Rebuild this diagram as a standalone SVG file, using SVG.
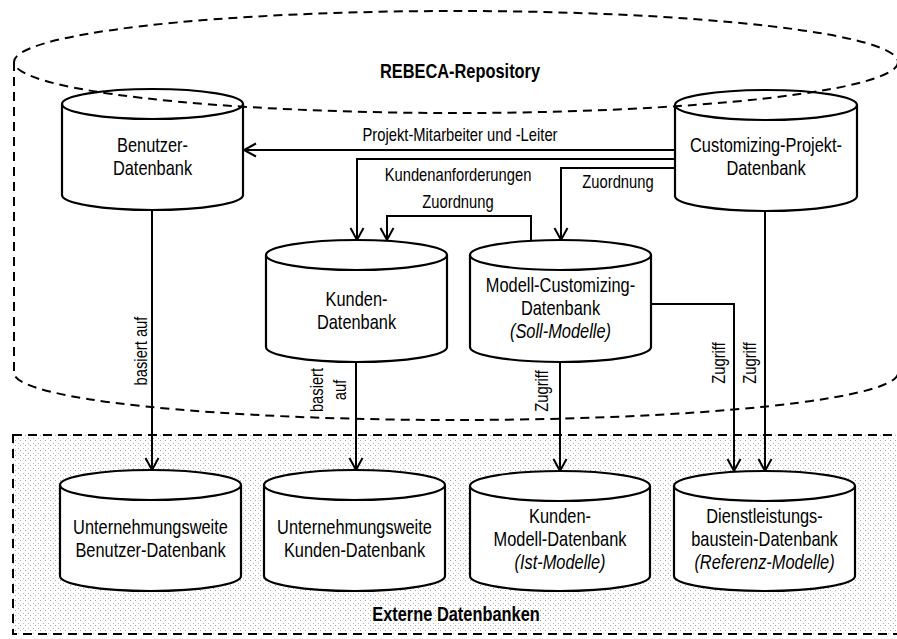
<svg xmlns="http://www.w3.org/2000/svg" width="897" height="639" viewBox="0 0 897 639">
  <style>
    .dash { fill: none; stroke: #000; stroke-width: 2; stroke-dasharray: 9 6; }
    .db { fill: #fff; stroke: #000; stroke-width: 2.2; }
    .db-open { fill: none; stroke: #000; stroke-width: 2.2; }
    .edge { fill: none; stroke: #000; stroke-width: 2; marker-end: url(#arrow); }
    text { font-family: "Liberation Sans", Arial, sans-serif; fill: #000; text-anchor: middle; }
    .node { font-size: 20px; }
    .lbl { font-size: 18px; }
    .title { font-size: 20px; font-weight: bold; }
    .it { font-style: italic; }
  </style>
  <defs>
    <marker id="arrow" markerUnits="userSpaceOnUse" markerWidth="16" markerHeight="16" refX="13" refY="8" orient="auto">
      <path d="M1,1.5 L13,8 L1,14.5" fill="none" stroke="#000" stroke-width="2"/>
    </marker>
    <pattern id="stipple" width="5" height="5" patternUnits="userSpaceOnUse">
      <rect x="0" y="0" width="1" height="1" fill="#a8a8a8"/>
      <rect x="3" y="3" width="1" height="1" fill="#b8b8b8"/>
    </pattern>
  </defs>

  <rect width="897" height="639" fill="#fff"/>

  <!-- External databases area -->
  <g id="externe-datenbanken">
    <rect x="13" y="435" width="900" height="199" fill="url(#stipple)"/>
    <rect x="13" y="435" width="900" height="199" class="dash"/>
    <text class="title" transform="translate(456,621) scale(0.82,1)">Externe Datenbanken</text>
  </g>

  <!-- REBECA repository outline (dashed cylinder) -->
  <g id="rebeca-repository">
    <ellipse cx="456" cy="62" rx="442" ry="51" class="dash"/>
    <path d="M14,62 V373 A442,47 0 0 0 898,373" class="dash"/>
    <text class="title" transform="translate(460,78) scale(0.82,1)">REBECA-Repository</text>
  </g>

  <!-- Connectors -->
  <g id="connectors">
    <path class="edge" d="M675,150 H244"/>
    <path class="edge" d="M675,159 H357 V240"/>
    <path class="edge" d="M675,168 H561 V240"/>
    <path class="edge" d="M531,241 V216 H387 V240"/>
    <path class="edge" d="M152,210 V470"/>
    <path class="edge" d="M356,362 V470"/>
    <path class="edge" d="M560,362 V471"/>
    <path class="edge" d="M651,304 H734 V471"/>
    <path class="edge" d="M765,212 V471"/>

    <text class="lbl" transform="translate(460,141) scale(0.82,1)">Projekt-Mitarbeiter und -Leiter</text>
    <text class="lbl" transform="translate(458,181) scale(0.82,1)">Kundenanforderungen</text>
    <text class="lbl" transform="translate(618,188) scale(0.82,1)">Zuordnung</text>
    <text class="lbl" transform="translate(458,208) scale(0.82,1)">Zuordnung</text>
    <text class="lbl" transform="translate(147,351) rotate(-90) scale(0.82,1)">basiert auf</text>
    <text class="lbl" transform="translate(323,390) rotate(-90) scale(0.82,1)">basiert</text>
    <text class="lbl" transform="translate(346,390) rotate(-90) scale(0.82,1)">auf</text>
    <text class="lbl" transform="translate(548,391) rotate(-90) scale(0.82,1)">Zugriff</text>
    <text class="lbl" transform="translate(725,363) rotate(-90) scale(0.82,1)">Zugriff</text>
    <text class="lbl" transform="translate(756,363) rotate(-90) scale(0.82,1)">Zugriff</text>
  </g>

  <!-- Repository databases -->
  <g id="benutzer-db">
    <path class="db-open" d="M62,104 V195 A90.5,15 0 0 0 243,195 V104"/>
    <ellipse class="db-open" cx="152.5" cy="104" rx="90.5" ry="15"/>
    <text class="node" transform="translate(152.5,152) scale(0.82,1)">Benutzer-</text>
    <text class="node" transform="translate(152.5,175) scale(0.82,1)">Datenbank</text>
  </g>

  <g id="customizing-projekt-db">
    <path class="db-open" d="M675,105 V196 A91,15 0 0 0 857,196 V105"/>
    <ellipse class="db-open" cx="766" cy="105" rx="91" ry="15"/>
    <text class="node" transform="translate(766,152) scale(0.82,1)">Customizing-Projekt-</text>
    <text class="node" transform="translate(766,175) scale(0.82,1)">Datenbank</text>
  </g>

  <g id="kunden-db">
    <path class="db" d="M266,255 V347 A90.5,15 0 0 0 447,347 V255"/>
    <ellipse class="db" cx="356.5" cy="255" rx="90.5" ry="15"/>
    <text class="node" transform="translate(356.5,306) scale(0.82,1)">Kunden-</text>
    <text class="node" transform="translate(356.5,329) scale(0.82,1)">Datenbank</text>
  </g>

  <g id="modell-customizing-db">
    <path class="db" d="M470,255 V347 A90.5,15 0 0 0 651,347 V255"/>
    <ellipse class="db" cx="560.5" cy="255" rx="90.5" ry="15"/>
    <text class="node" transform="translate(560.5,292) scale(0.82,1)">Modell-Customizing-</text>
    <text class="node" transform="translate(560.5,315) scale(0.82,1)">Datenbank</text>
    <text class="node it" transform="translate(560.5,338) scale(0.82,1)">(Soll-Modelle)</text>
  </g>

  <!-- External databases -->
  <g id="uw-benutzer-db">
    <path class="db" d="M60,485 V576 A90.5,15 0 0 0 241,576 V485"/>
    <ellipse class="db" cx="150.5" cy="485" rx="90.5" ry="15"/>
    <text class="node" transform="translate(150.5,534) scale(0.82,1)">Unternehmungsweite</text>
    <text class="node" transform="translate(150.5,557) scale(0.82,1)">Benutzer-Datenbank</text>
  </g>

  <g id="uw-kunden-db">
    <path class="db" d="M264,485 V576 A90.5,15 0 0 0 445,576 V485"/>
    <ellipse class="db" cx="354.5" cy="485" rx="90.5" ry="15"/>
    <text class="node" transform="translate(354.5,534) scale(0.82,1)">Unternehmungsweite</text>
    <text class="node" transform="translate(354.5,557) scale(0.82,1)">Kunden-Datenbank</text>
  </g>

  <g id="kunden-modell-db">
    <path class="db" d="M470,486 V576 A90,15 0 0 0 650,576 V486"/>
    <ellipse class="db" cx="560" cy="486" rx="90" ry="15"/>
    <text class="node" transform="translate(560,523) scale(0.82,1)">Kunden-</text>
    <text class="node" transform="translate(560,546) scale(0.82,1)">Modell-Datenbank</text>
    <text class="node it" transform="translate(560,569) scale(0.82,1)">(Ist-Modelle)</text>
  </g>

  <g id="dienstleistungsbaustein-db">
    <path class="db" d="M674,486 V576 A90.5,15 0 0 0 855,576 V486"/>
    <ellipse class="db" cx="764.5" cy="486" rx="90.5" ry="15"/>
    <text class="node" transform="translate(764.5,523) scale(0.82,1)">Dienstleistungs-</text>
    <text class="node" transform="translate(764.5,546) scale(0.82,1)">baustein-Datenbank</text>
    <text class="node it" transform="translate(764.5,569) scale(0.82,1)">(Referenz-Modelle)</text>
  </g>
</svg>
